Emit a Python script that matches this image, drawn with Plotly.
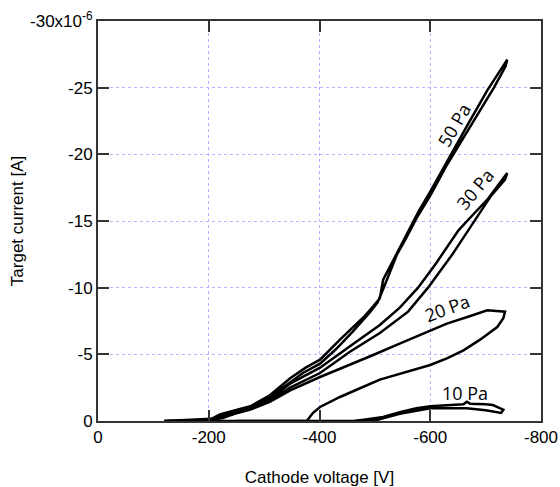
import plotly.graph_objects as go

# Cathode voltage [V] and target current [µA] (each loop: forward then return)
v50 = [-120, -200, -220, -250, -275, -311, -347, -375, -401, -437, -455, -480, -497, -509, -515, -530, -545, -560, -580, -600, -620, -641, -670, -703, -720, -739,
       -736, -715, -690, -660, -630, -600, -575, -555, -540, -518, -505, -490, -460, -430, -401, -370, -347, -311, -275, -250, -225, -215, -120]
i50 = [0, -0.05, -0.5, -0.8, -1.1, -1.95, -3.2, -4.0, -4.6, -6.1, -6.8, -7.8, -8.6, -9.2, -10.6, -11.8, -13.1, -14.3, -15.8, -17.2, -18.7, -20.3, -22.4, -24.8, -25.9, -27.1,
       -26.6, -25.0, -23.3, -21.2, -19.2, -16.9, -15.2, -13.6, -12.5, -10.2, -8.9, -8.1, -6.7, -5.4, -4.3, -3.6, -2.9, -1.8, -1.0, -0.75, -0.45, -0.1, 0]

v30 = [-120, -200, -222, -250, -275, -311, -347, -401, -455, -509, -545, -578, -610, -651, -680, -703, -739,
       -735, -710, -668, -640, -596, -560, -509, -455, -401, -347, -311, -275, -250, -224, -120]
i30 = [0, -0.05, -0.4, -0.75, -1.0, -1.7, -2.8, -4.0, -5.6, -7.2, -8.5, -10.0, -11.8, -14.3, -15.6, -16.6, -18.6,
       -18.1, -16.9, -14.3, -12.5, -10.0, -8.2, -6.6, -5.2, -3.6, -2.5, -1.55, -0.9, -0.6, -0.2, 0]

v20 = [-120, -200, -224, -250, -275, -311, -347, -401, -455, -497, -550, -601, -630, -667, -703, -735,
       -732, -721, -690, -660, -630, -600, -560, -509, -470, -437, -401, -388, -377, -300, -200, -120]
i20 = [0, -0.02, -0.3, -0.6, -0.85, -1.45, -2.3, -3.3, -4.2, -4.95, -5.9, -6.8, -7.3, -7.8, -8.3, -8.2,
       -7.7, -7.05, -6.1, -5.3, -4.7, -4.2, -3.7, -3.1, -2.4, -1.8, -1.05, -0.6, 0, 0, 0, 0]

v10 = [-250, -350, -460, -480, -515, -545, -575, -600, -630, -660, -666, -672, -700, -713, -732,
       -728, -700, -666, -600, -545, -505, -480, -400, -300]
i10 = [0, 0, 0, -0.1, -0.3, -0.65, -0.95, -1.1, -1.2, -1.25, -1.45, -1.3, -1.25, -1.2, -0.85,
       -0.6, -0.8, -0.95, -0.95, -0.55, -0.1, 0, 0, 0]

y_tick_vals = [0, -5, -10, -15, -20, -25, -30]
y_tick_text = ["0", "-5", "-10", "-15", "-20", "-25", "-30x10<sup>-6</sup>"]
x_tick_vals = [0, -200, -400, -600, -800]
x_tick_text = ["0", "-200", "-400", "-600", "-800"]

labels = ["50 Pa", "30 Pa", "20 Pa", "10 Pa"]
label_pos = [(-643, -22.2), (-681, -17.4), (-630, -8.5), (-662, -2.1)]
label_angle = [-60, -50, -20, 0]

fig = go.Figure()
for vv, ii in [(v50, i50), (v30, i30), (v20, i20), (v10, i10)]:
    fig.add_trace(go.Scatter(x=vv, y=ii, mode="lines",
                             line=dict(color="black", width=2.5), showlegend=False))

for t, (xx, yy), a in zip(labels, label_pos, label_angle):
    fig.add_annotation(x=xx, y=yy, text=t, showarrow=False, textangle=a,
                       font=dict(family="Open Sans", size=18, color="black"))

axis_common = dict(showline=True, linecolor="#333333", linewidth=2, mirror="ticks",
                   ticks="inside", ticklen=11, tickwidth=1.5, tickcolor="#333333",
                   showgrid=True, gridcolor="#b4b4ff", griddash="dot", gridwidth=1,
                   zeroline=False, automargin=False,
                   tickfont=dict(family="Liberation Sans, Arial", size=17, color="black"))

fig.update_xaxes(range=[0, -800], tickvals=x_tick_vals, ticktext=x_tick_text,
                 title=dict(text="Cathode voltage [V]", font=dict(family="Liberation Sans, Arial", size=17, color="black"), standoff=26),
                 **axis_common)
fig.update_yaxes(range=[0, -30], tickvals=y_tick_vals, ticktext=y_tick_text,
                 title=dict(text="Target current [A]", font=dict(family="Liberation Sans, Arial", size=17, color="black"), standoff=2),
                 **axis_common)

fig.update_layout(width=560, height=487, margin=dict(l=98, r=19, t=21, b=66),
                  plot_bgcolor="white", paper_bgcolor="white")

fig.write_html("out.html")
